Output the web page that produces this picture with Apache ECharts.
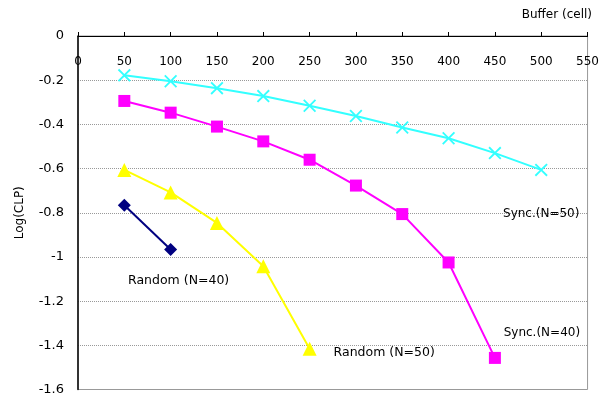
<!DOCTYPE html>
<html><head><meta charset="utf-8">
<script src="https://cdn.jsdelivr.net/npm/echarts@6/dist/echarts.min.js"></script>
<style>html,body{margin:0;padding:0;background:#fff}#c{width:602px;height:396px}</style>
</head><body><div id="c"></div>
<script>
const xTicks = [0,50,100,150,200,250,300,350,400,450,500,550];
const buffers = [50,100,150,200,250,300,350,400,450,500];
const syncN50 = [-0.178,-0.205,-0.236,-0.272,-0.316,-0.362,-0.414,-0.463,-0.53,-0.606];
const syncN40 = [-0.294,-0.347,-0.41,-0.477,-0.56,-0.677,-0.806,-1.025,-1.457];
const randN50 = [-0.606,-0.708,-0.846,-1.042,-1.416];
const randN40 = [-0.766,-0.966];
const names = ['Sync.(N=50)','Sync.(N=40)','Random (N=50)','Random (N=40)'];

const font = '"DejaVu Sans", sans-serif';
function pts(vals, lblIdx, lbl){
  return vals.map((v,i)=>{
    const d = {value:[buffers[i], v]};
    if(i===lblIdx) d.label = Object.assign({show:true, color:'#000', fontSize:12, fontFamily:font}, lbl);
    return d;
  });
}
const crossPath = 'path://M0,1 L1,0 L5,4 L9,0 L10,1 L6,5 L10,9 L9,10 L5,6 L1,10 L0,9 L4,5 Z';
const chart = echarts.init(document.getElementById('c'), null, {renderer:'canvas'});
chart.setOption({
  animation:false,
  grid:{left:78, top:36, right:2, bottom:1, show:true, borderColor:'#999', borderWidth:1},
  xAxis:{type:'value', position:'top', min:0, max:550, interval:50,
    axisLine:{lineStyle:{color:'#000'}}, axisTick:{inside:false, length:4, lineStyle:{color:'#000'}},
    axisLabel:{inside:true, margin:20, color:'#000', fontSize:12, fontFamily:font, showMaxLabel:true,
      formatter:v=>xTicks.includes(v)?String(v):''},
    splitLine:{show:false}},
  yAxis:{type:'value', min:-1.6, max:0, interval:0.2,
    name:'Log(CLP)', nameLocation:'middle', nameGap:52, nameRotate:90,
    nameTextStyle:{color:'#000', fontSize:12, fontFamily:font},
    axisLine:{show:true, lineStyle:{color:'#000', width:1.5}}, axisTick:{show:false},
    axisLabel:{color:'#000', fontSize:13, fontFamily:font, margin:14,
      formatter:v=>String(Math.round(v*10)/10)},
    splitLine:{lineStyle:{color:'#999', type:'dotted', width:1}}},
  graphic:[{type:'text', right:10, top:9, style:{text:'Buffer (cell)', fill:'#000', font:'12px '+font}}],
  series:[
    {name:names[0], type:'line', data:pts(syncN50, 9, {formatter:names[0], position:'bottom', offset:[0,26]}),
     lineStyle:{color:'#33ffff', width:2}, itemStyle:{color:'#33ffff'}, symbol:crossPath, symbolSize:13},
    {name:names[1], type:'line', data:pts(syncN40, 8, {formatter:names[1], position:'top', offset:[47,-8]}),
     lineStyle:{color:'#ff00ff', width:2}, itemStyle:{color:'#ff00ff'}, symbol:'rect', symbolSize:12},
    {name:names[2], type:'line', data:pts(randN50, 4, {formatter:names[2], position:'right', offset:[12,4], fontSize:12.5}),
     lineStyle:{color:'#ffff00', width:2}, itemStyle:{color:'#ffff00'}, symbol:'triangle', symbolSize:14},
    {name:names[3], type:'line', data:pts(randN40, 1, {formatter:names[3], position:'bottom', offset:[8,13], fontSize:12.5}),
     lineStyle:{color:'#000080', width:2}, itemStyle:{color:'#000080'}, symbol:'diamond', symbolSize:13}
  ]
});
</script></body></html>
